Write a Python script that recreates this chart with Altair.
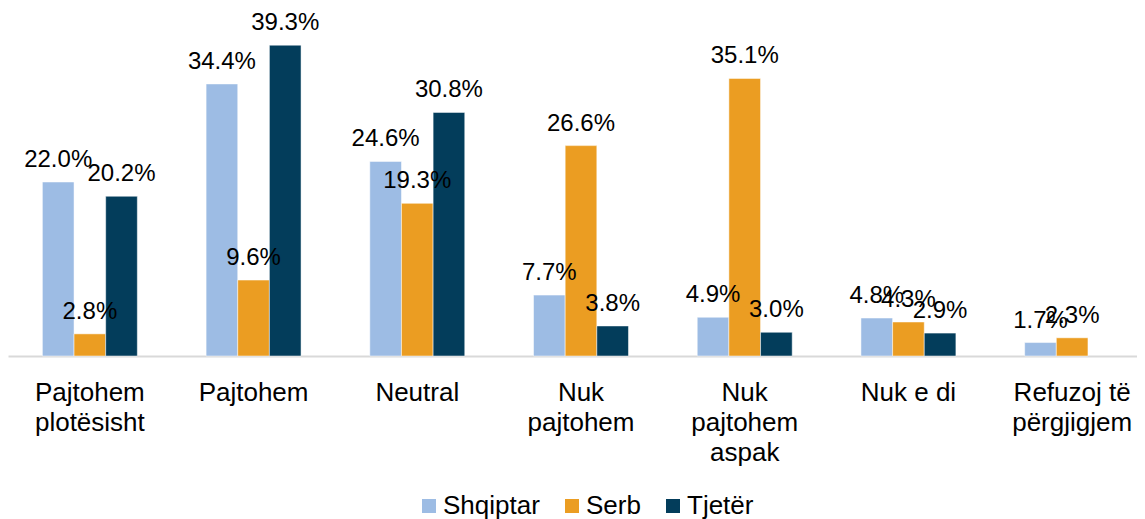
import altair as alt
import pandas as pd

categories = ["Pajtohem plotësisht", "Pajtohem", "Neutral", "Nuk pajtohem",
              "Nuk pajtohem aspak", "Nuk e di", "Refuzoj të përgjigjem"]
label_lines = {
    "Pajtohem plotësisht": ["Pajtohem", "plotësisht"],
    "Pajtohem": ["Pajtohem"],
    "Neutral": ["Neutral"],
    "Nuk pajtohem": ["Nuk", "pajtohem"],
    "Nuk pajtohem aspak": ["Nuk", "pajtohem", "aspak"],
    "Nuk e di": ["Nuk e di"],
    "Refuzoj të përgjigjem": ["Refuzoj të", "përgjigjem"],
}
series = ["Shqiptar", "Serb", "Tjetër"]
shqiptar = [22.0, 34.4, 24.6, 7.7, 4.9, 4.8, 1.7]
serb = [2.8, 9.6, 19.3, 26.6, 35.1, 4.3, 2.3]
tjeter = [20.2, 39.3, 30.8, 3.8, 3.0, 2.9, None]
colors = ["#9DBCE4", "#EB9D22", "#033D5B"]

rows = []
for name, vals in zip(series, [shqiptar, serb, tjeter]):
    for c, v in zip(categories, vals):
        if v is not None:
            rows.append({"cat": c, "series": name, "value": v,
                         "label": f"{v:.1f}%"})
df = pd.DataFrame(rows)

expr_map = "{" + ",".join(
    "'" + k + "':[" + ",".join("'" + s + "'" for s in v) + "]"
    for k, v in label_lines.items()) + "}"
label_expr = expr_map + "[datum.label]"

x_enc = alt.X("cat:N", sort=categories,
              scale=alt.Scale(paddingInner=0.42, paddingOuter=0.21, range=[0, 1146]),
              axis=alt.Axis(title=None, labelAngle=0, ticks=False,
                            domainColor="#D9D9D9", domainWidth=2,
                            labelFont="Liberation Sans", labelFontSize=26,
                            labelColor="#000000", labelLineHeight=30,
                            labelPadding=23, labelBaseline="top",
                            labelExpr=label_expr))
xoff = alt.XOffset("series:N", sort=series, scale=alt.Scale(paddingInner=0, paddingOuter=0))
y_enc = alt.Y("value:Q", scale=alt.Scale(domain=[0, 44], nice=False), axis=None)

bars = alt.Chart(df).mark_bar(stroke="white", strokeWidth=0.5).encode(
    x=x_enc, xOffset=xoff, y=y_enc,
    color=alt.Color("series:N", sort=series,
                    scale=alt.Scale(domain=series, range=colors),
                    legend=alt.Legend(title=None, orient="none", direction="horizontal",
                                      legendX=408, legendY=485,
                                      symbolType="square", symbolSize=196,
                                      symbolStrokeWidth=0,
                                      labelFont="Liberation Sans", labelFontSize=26,
                                      labelColor="#000000", labelOffset=1,
                                      columnPadding=19)),
)

text = alt.Chart(df).mark_text(font="Liberation Sans", fontSize=24, color="#000000",
                               baseline="alphabetic", dy=-15).encode(
    x=x_enc, xOffset=xoff, y=y_enc, text="label:N")

chart = alt.layer(bars, text).properties(
    width=1129, height=348,
    padding={"left": 0, "top": 0, "right": 0, "bottom": 163},
    autosize=alt.AutoSizeParams(type="none"),
).configure_view(stroke=None).configure_axis(grid=False)

chart.save("out.html", embed_options={"renderer": "svg", "actions": False})
